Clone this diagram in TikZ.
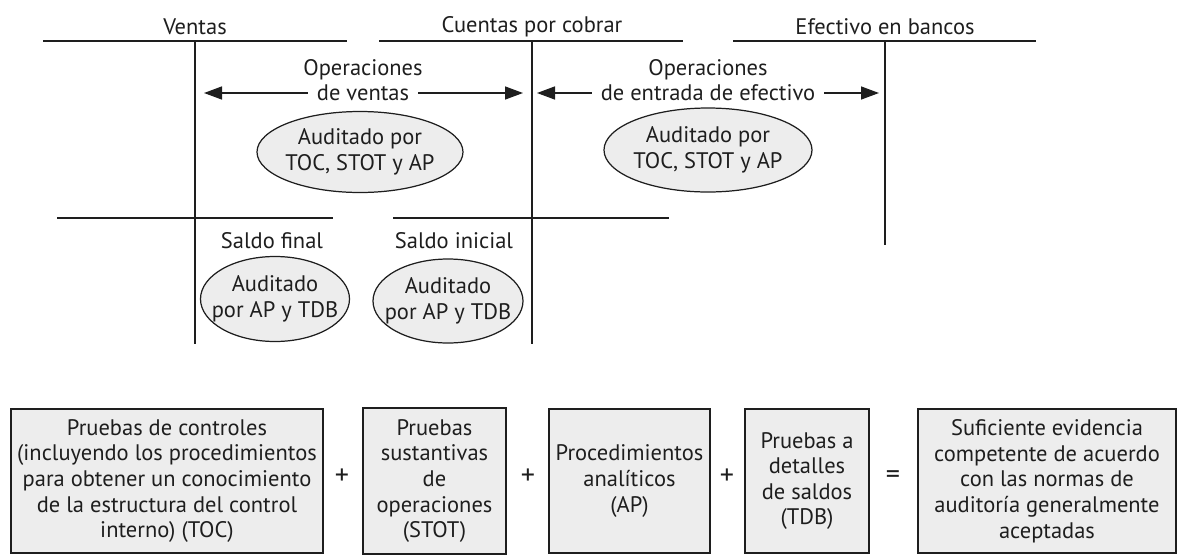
\documentclass[tikz,border=0pt]{standalone}
\usepackage{fontspec}
\setmainfont{PT Sans}
\usetikzlibrary{arrows.meta,positioning,shapes.geometric}
\definecolor{inkgray}{HTML}{1E1E1E}
\definecolor{paleg}{HTML}{EDEDED}
\newcommand{\txtsize}{\fontsize{12.8}{14.6}\selectfont}
\tikzset{
  ledger/.style={draw=inkgray, line width=0.8pt},
  tag/.style={font=\txtsize, text=inkgray, inner sep=2pt, align=center},
  arrtag/.style={tag, inner xsep=5pt},
  sign/.style={font=\fontsize{16}{16}\selectfont, text=inkgray, inner sep=1pt},
  oval/.style={ellipse, draw=inkgray, line width=0.7pt, fill=paleg, inner xsep=-6pt, inner ysep=0pt,
    align=center, font=\txtsize, text=inkgray},
  proof/.style={draw=inkgray, line width=0.7pt, fill=paleg, inner sep=2pt,
    align=center, minimum height=28.8mm, font=\txtsize, text=inkgray},
  flow/.style={-{Triangle[length=3.6mm,width=2.6mm]}, line width=0.8pt, draw=inkgray},
}

\begin{document}
\begin{tikzpicture}[x=0.2mm, y=-0.2mm]
\useasboundingbox (0,0) rectangle (1186,556);

% cuentas T
\node[tag] (ventas) at (195,27) {Ventas};
\node[tag] (cxc) at (532,27) {Cuentas por cobrar};
\node[tag] (bancos) at (885,27) {Efectivo en bancos};
\draw[ledger] (43,41) -- (347,41);
\draw[ledger] (379,41) -- (683,41);
\draw[ledger] (733,41) -- (1036,41);
\draw[ledger] (195,41) -- (195,344);
\draw[ledger] (532,41) -- (532,344);
\draw[ledger] (885,41) -- (885,245);
\draw[ledger] (57,218) -- (333,218);
\draw[ledger] (393,218) -- (669,218);

% operaciones
\node[tag] (opv) at (363,70) {Operaciones};
\node[arrtag] (dev) at (363,93) {de ventas};
\coordinate (devL) at (204,93);
\coordinate (devR) at (523,93);
\draw[flow] (dev) -- (devL);
\draw[flow] (dev) -- (devR);

\node[tag] (ope) at (708,70) {Operaciones};
\node[arrtag] (dee) at (708,93) {de entrada de efectivo};
\coordinate (deeL) at (537,93);
\coordinate (deeR) at (879,93);
\draw[flow] (dee) -- (deeL);
\draw[flow] (dee) -- (deeR);

\node[oval, minimum width=41.2mm, minimum height=16.2mm] (audv) at (360,152) {Auditado por\\TOC, STOT y AP};
\node[oval, minimum width=41.6mm, minimum height=16.8mm] (aude) at (708,150) {Auditado por\\TOC, STOT y AP};

% saldos
\node[tag] (sfin) at (272,241) {Saldo final};
\node[tag] (sini) at (454,241) {Saldo inicial};
\node[oval, minimum width=29.8mm, minimum height=17mm] (audf) at (275,299) {Auditado\\por AP y TDB};
\node[oval, minimum width=30mm, minimum height=16.8mm] (audi) at (448,301) {Auditado\\por AP y TDB};

% ecuacion de evidencia
\node[proof, minimum width=62.4mm] (toc) at (167,481) {Pruebas de controles\\(incluyendo los procedimientos\\para obtener un conocimiento\\de la estructura del control\\interno) (TOC)};
\node[sign] (plus1) at (342,477) {+};
\node[proof, minimum width=28.6mm, minimum height=29.2mm] (stot) at (434.5,481) {Pruebas\\sustantivas\\de\\operaciones\\(STOT)};
\node[sign] (plus2) at (528,477) {+};
\node[proof, minimum width=32.2mm] (ap) at (629.5,481) {Procedimientos\\analíticos\\(AP)};
\node[sign] (plus3) at (727,477) {+};
\node[proof, minimum width=24.8mm] (tdb) at (807,481) {Pruebas a\\detalles\\de saldos\\(TDB)};
\node[sign] (equal) at (893,477) {=};
\node[proof, minimum width=51.6mm] (suf) at (1047,481) {Suficiente evidencia\\competente de acuerdo\\con las normas de\\auditoría generalmente\\aceptadas};
\end{tikzpicture}
\end{document}
